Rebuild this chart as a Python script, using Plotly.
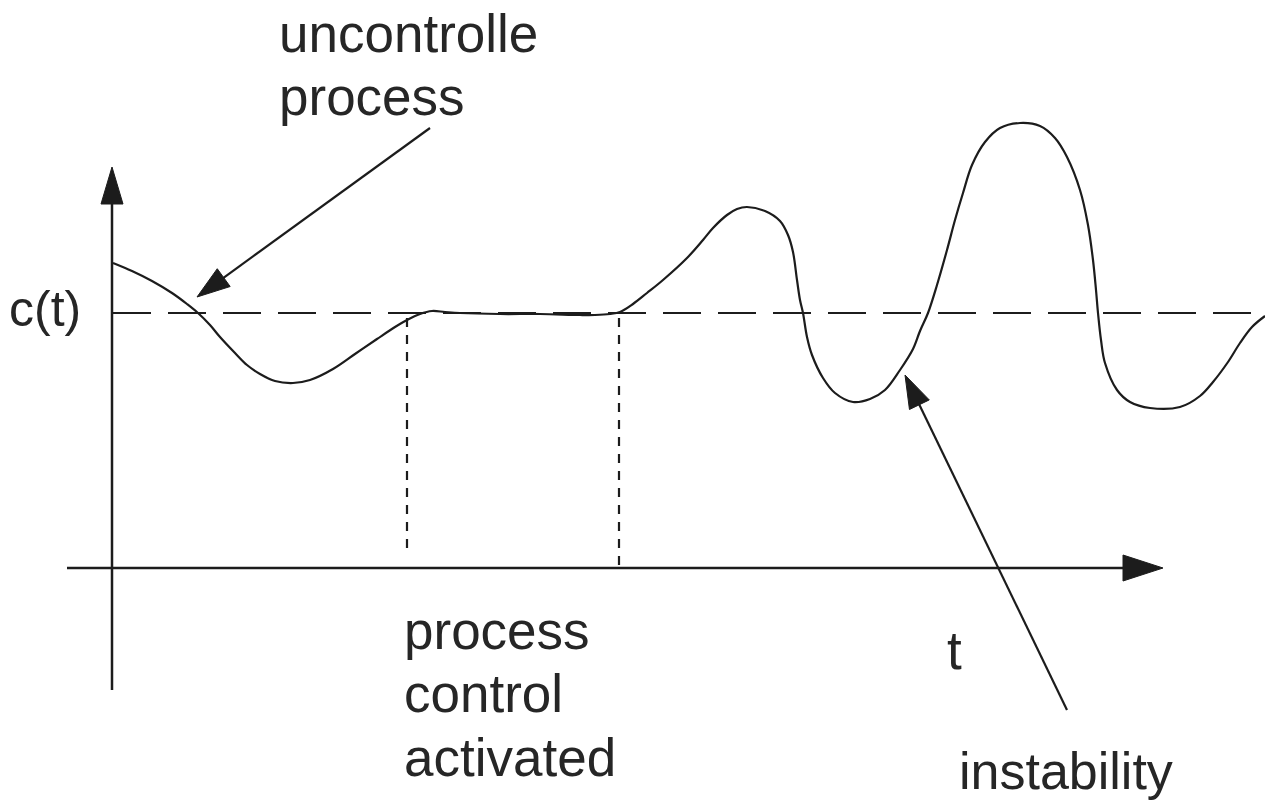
import math
import plotly.graph_objects as go

# ---- data (t: time units, c: response units; 1 unit ~ 1 px) ----
curve_t = [1, 20, 40, 60, 75, 86, 98, 108, 123, 135, 148, 163, 181, 198, 221, 243, 265,
           283, 295, 308, 320, 333, 348, 388, 428, 468, 483, 498, 508, 521, 535, 551, 575,
           591, 601, 615, 625, 635, 653, 668, 676, 681, 685, 688, 691, 695, 700, 711, 723, 741,
           758, 773, 788, 801, 808, 816, 825, 835, 843, 851, 860, 873, 888, 908, 928, 943,
           955, 968, 976, 981, 984, 986, 989, 993, 1005, 1018, 1038, 1068, 1088, 1101, 1116,
           1128, 1140, 1153]
curve_c = [305, 297, 287, 275, 264, 255, 243, 231, 215, 203, 194, 187, 185, 188, 199, 214, 229,
           241, 248, 254, 257, 256, 255, 254, 254, 253, 253, 254, 256, 264, 275, 288, 310,
           328, 340, 353, 359, 361, 357, 347, 333, 316, 288, 268, 255, 231, 213, 190, 175, 166,
           169, 178, 198, 219, 237, 255, 283, 318, 348, 375, 403, 426, 440, 445, 442, 430,
           411, 378, 343, 308, 278, 255, 228, 205, 178, 166, 160, 161, 172, 186, 206,
           225, 241, 252]

setpoint_c = 255
setpoint_t = [1, 1153]
activation_t = [295, 507]
activation_bottom = [13, 0]

t_axis = [-45, 1051]     # horizontal axis extent (start, arrow tip)
c_axis = [-122, 401]     # vertical axis extent (start, arrow tip)

arrow_uncontrolled = [(318, 440), (85, 271)]   # (tail, tip)
arrow_instability = [(955, -142), (793, 193)]

labels = [
    ("uncontrolle", 165, 535, 53),
    ("process", 165, 472, 53),
    ("c(t)", -105, 259, 50),
    ("process", 290, -62, 53),
    ("control", 290, -125, 53),
    ("activated", 290, -189, 53),
    ("t", 833, -82, 53),
    ("instability", 845, -203, 52),
]

LINE = "#1c1c1c"
TEXT = "#262626"
FONT = "Liberation Sans, Arial, sans-serif"

fig = go.Figure()

# response curve
fig.add_trace(go.Scatter(x=curve_t, y=curve_c, mode="lines",
                         line=dict(color=LINE, width=2.2, shape="spline", smoothing=1.0),
                         hoverinfo="skip", showlegend=False))

shapes = []
# setpoint dashed line
shapes.append(dict(type="line", x0=setpoint_t[0], x1=setpoint_t[1], y0=setpoint_c, y1=setpoint_c,
                   line=dict(color=LINE, width=2, dash="38px,17px")))
# activation dotted lines
for tx, yb in zip(activation_t, activation_bottom):
    shapes.append(dict(type="line", x0=tx, x1=tx, y0=setpoint_c - 5, y1=yb,
                       line=dict(color=LINE, width=2.2, dash="9px,8px")))


def arrow(tail, tip, length, half, width):
    (x0, y0), (x1, y1) = tail, tip
    dx, dy = x1 - x0, y1 - y0
    d = math.hypot(dx, dy)
    ux, uy = dx / d, dy / d
    bx, by = x1 - ux * length, y1 - uy * length
    px, py = -uy * half, ux * half
    out = [dict(type="line", x0=x0, y0=y0, x1=bx + ux * 2, y1=by + uy * 2,
                line=dict(color=LINE, width=width))]
    path = (f"M {x1},{y1} L {bx + px},{by + py} L {bx - px},{by - py} Z")
    out.append(dict(type="path", path=path, fillcolor=LINE, line=dict(color=LINE, width=1)))
    return out


# axes with arrowheads
shapes += arrow((t_axis[0], 0), (t_axis[1], 0), 40, 13, 2.5)
shapes += arrow((0, c_axis[0]), (0, c_axis[1]), 37, 11, 2.5)
# annotation arrows
shapes += arrow(*arrow_uncontrolled, 33, 11, 2.2)
shapes += arrow(*arrow_instability, 33, 11, 2.2)

annotations = []
for txt, tx, cy, size in labels:
    annotations.append(dict(text=txt, x=tx, y=cy, xref="x", yref="y", showarrow=False,
                            xanchor="left", yanchor="middle",
                            font=dict(family=FONT, size=size, color=TEXT)))

fig.update_layout(
    width=1265, height=804,
    margin=dict(l=0, r=0, t=0, b=0),
    paper_bgcolor="white", plot_bgcolor="white",
    xaxis=dict(range=[-112, 1153], visible=False, fixedrange=True),
    yaxis=dict(range=[-236, 568], visible=False, fixedrange=True),
    shapes=shapes, annotations=annotations,
    showlegend=False,
)

fig.write_html("out.html", config={"displayModeBar": False},
               post_script="document.body.style.margin='0';document.body.style.overflow='hidden';")
